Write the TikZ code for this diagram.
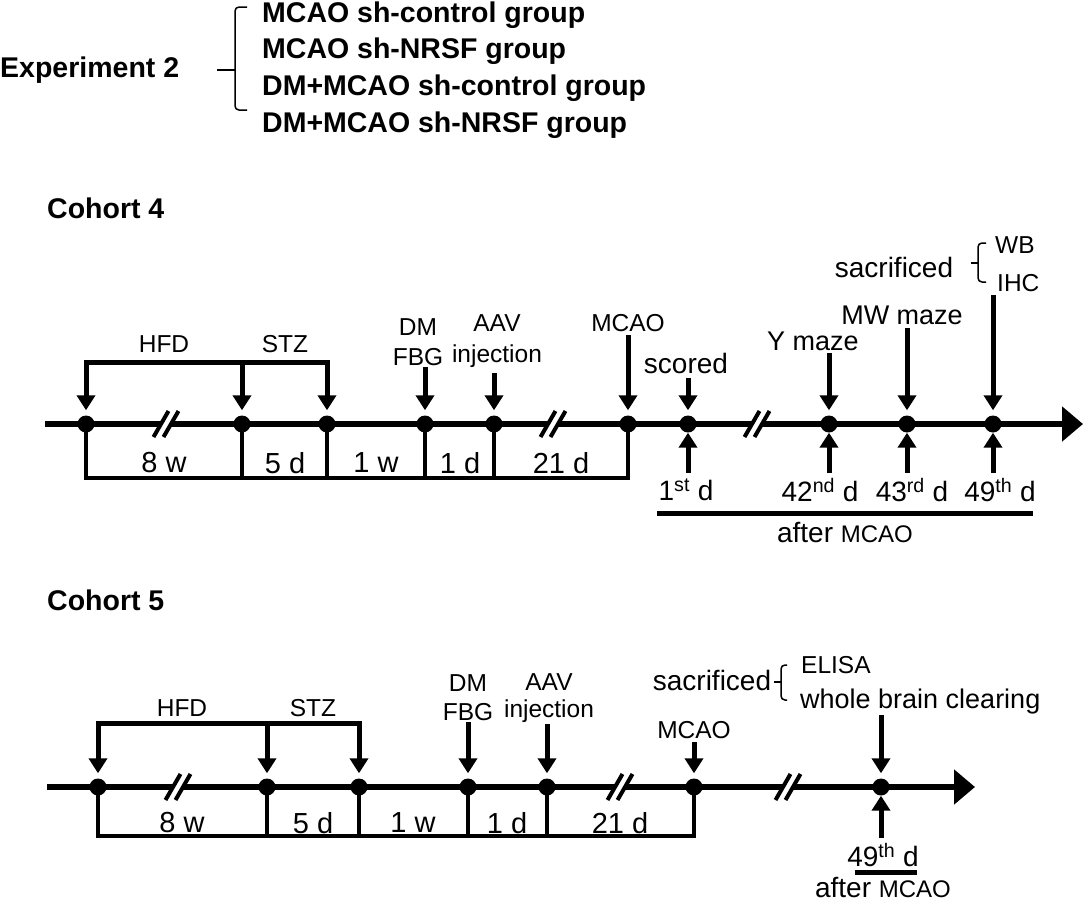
\documentclass[tikz,border=0pt]{standalone}
\usepackage{fontspec}
\setmainfont{Liberation Sans}
\usetikzlibrary{arrows.meta}
\newcommand\fsz[1]{\fontsize{#1}{#1}\selectfont}
\begin{document}
\begin{tikzpicture}[x=1pt,y=-1pt,
  axis/.style={line width=6pt},
  boxl/.style={line width=4pt},
  arr/.style={line width=5pt,line cap=rect,-{Triangle[width=18pt,length=15pt]}},
  dn/.style={arr,shorten >=5pt},
  dot/.style={circle,fill,inner sep=0pt,minimum size=17pt},
  lbl/.style={inner sep=0pt,font=\fsz{24.5}},
  big/.style={inner sep=0pt,font=\fsz{28}},
  mz/.style={inner sep=0pt,font=\fsz{27}},
  dur/.style={inner sep=0pt,font=\fsz{29}},
  ttl/.style={inner sep=0pt,font=\fsz{28.5}\bfseries,anchor=west},
  brace/.style={line width=1.5pt,rounded corners=4pt},
  brk/.pic={
    \fill[white] (-12.5,13) -- (2.5,-13) -- (12.5,-13) -- (-2.5,13) -- cycle;
    \draw[line width=4pt] (-12.5,13) -- (2.5,-13) (-2.5,13) -- (12.5,-13);
  }]
\fill[white] (0,0) rectangle (1084,902);
\useasboundingbox (0,0) rectangle (1084,902);

% ---------- header ----------
\node[ttl] (exp) at (0,70) {Experiment 2};
\node[ttl] (g1) at (262,15) {MCAO sh-control group};
\node[ttl] (g2) at (262,51) {MCAO sh-NRSF group};
\node[ttl] (g3) at (262,88) {DM+MCAO sh-control group};
\node[ttl] (g4) at (262,125) {DM+MCAO sh-NRSF group};
\draw[brace] (247,7) -- (235,7) -- (235,110) -- (247,110);
\draw[line width=1.5pt] (235,70) -- (217,70);

\node[ttl] (c4) at (47,208) {Cohort 4};
\node[ttl] (c5) at (47,600) {Cohort 5};

% ---------- cohort 4 ----------
\coordinate (st4) at (45,424);
\coordinate (en4) at (1083,424);
\coordinate (bot4) at (0,478);
\coordinate (top4) at (0,362);
\draw[axis,-{Triangle[width=34pt,length=21pt]}] (st4) -- (en4);
\foreach \n/\x in {1/86,2/242,3/327,4/425,5/494,6/628,7/688,8/829,9/907,10/993}
  \coordinate (p\n) at (\x,424);
\draw[boxl] (p1) -- (p1 |- bot4) -- (p6 |- bot4) -- (p6);
\foreach \n in {2,3,4,5} \draw[boxl] (p\n) -- (p\n |- bot4);
\pic at (166,424) {brk};
\pic at (553,424) {brk};
\pic at (757,424) {brk};
\foreach \n in {1,...,10} \node[dot] (a\n) at (p\n) {};

\node[dur] (w8a) at (164,463) {8 w};
\node[dur] (d5a) at (285,463) {5 d};
\node[dur] (w1a) at (376,463) {1 w};
\node[dur] (d1a) at (460,463) {1 d};
\node[dur] (d21a) at (561,463) {21 d};

\node[lbl] (hfd4) at (164,344) {HFD};
\node[lbl] (stz4) at (285,344) {STZ};
\draw[dn] (a3 |- top4) -- (a1 |- top4) -- (a1);
\draw[dn] (a2 |- top4) -- (a2);
\draw[dn] (a3 |- top4) -- (a3);

\node[lbl] (dm4) at (418,327) {DM};
\node[lbl] (fbg4) at (418,357) {FBG};
\draw[dn] (a4 |- 0,369) -- (a4);
\node[lbl] (aav4) at (497,323) {AAV};
\node[lbl] (inj4) at (497,356) {injection};
\draw[dn] (a5 |- 0,375) -- (a5);
\node[lbl] (mcao4) at (628,323) {MCAO};
\draw[dn] (a6 |- 0,337) -- (a6);
\node[big] (sc4) at (686,363) {scored};
\draw[dn] (a7 |- 0,380) -- (a7);
\node[mz] (ym4) at (813,341) {Y maze};
\draw[dn] (a8 |- 0,355) -- (a8);
\node[mz] (mw4) at (902,315) {MW maze};
\draw[dn] (a9 |- 0,330) -- (a9);
\node[big] (sac4) at (894,267) {sacrificed};
\draw[brace] (986,243) -- (978,243) -- (978,282) -- (986,282);
\draw[line width=1.5pt] (978,263) -- (971,263);
\node[lbl,anchor=west] (wb4) at (995,245) {WB};
\node[lbl,anchor=west] (ihc4) at (997,283) {IHC};
\draw[dn] (a10 |- 0,297) -- (a10);

\foreach \n in {7,8,9,10} \draw[arr] (a\n |- 0,470) -- (a\n);
\node[big] (day1) at (686,490) {1\textsuperscript{st} d};
\node[big] (day42) at (820,490) {42\textsuperscript{nd} d};
\node[big] (day43) at (912,490) {43\textsuperscript{rd} d};
\node[big] (day49) at (1000,490) {49\textsuperscript{th} d};
\coordinate (l4a) at (657,513);
\coordinate (l4b) at (1033,513);
\draw[line width=5pt] (l4a) -- (l4b);
\node[big,anchor=base] (aft4) at (845,542) {after {\fsz{24}MCAO}};

% ---------- cohort 5 ----------
\coordinate (st5) at (47,787);
\coordinate (en5) at (975,787);
\coordinate (bot5) at (0,836);
\coordinate (top5) at (0,723);
\draw[axis,-{Triangle[width=34pt,length=21pt]}] (st5) -- (en5);
\foreach \n/\x in {1/98,2/267,3/359,4/468,5/547,6/694,7/881}
  \coordinate (q\n) at (\x,787);
\draw[boxl] (q1) -- (q1 |- bot5) -- (q6 |- bot5) -- (q6);
\foreach \n in {2,3,4,5} \draw[boxl] (q\n) -- (q\n |- bot5);
\pic at (178,787) {brk};
\pic at (620,787) {brk};
\pic at (788,787) {brk};
\foreach \n in {1,...,7} \node[dot] (b\n) at (q\n) {};

\node[dur] (w8b) at (182,823) {8 w};
\node[dur] (d5b) at (313,823) {5 d};
\node[dur] (w1b) at (413,823) {1 w};
\node[dur] (d1b) at (507,823) {1 d};
\node[dur] (d21b) at (620,823) {21 d};

\node[lbl] (hfd5) at (182,708) {HFD};
\node[lbl] (stz5) at (313,708) {STZ};
\draw[dn] (b3 |- top5) -- (b1 |- top5) -- (b1);
\draw[dn] (b2 |- top5) -- (b2);
\draw[dn] (b3 |- top5) -- (b3);

\node[lbl] (dm5) at (468,683) {DM};
\node[lbl] (fbg5) at (468,712) {FBG};
\draw[dn] (b4 |- 0,724) -- (b4);
\node[lbl] (aav5) at (549,682) {AAV};
\node[lbl] (inj5) at (549,711) {injection};
\draw[dn] (b5 |- 0,726) -- (b5);
\node[lbl] (mcao5) at (694,730) {MCAO};
\draw[dn] (b6 |- 0,744) -- (b6);
\node[big] (sac5) at (712,680) {sacrificed};
\draw[brace] (787,665) -- (781,665) -- (781,700) -- (787,700);
\draw[line width=1.5pt] (781,682) -- (774,682);
\node[lbl,anchor=west] (eli5) at (801,665) {ELISA};
\node[mz,anchor=west] (wbc5) at (800,702) {whole brain clearing};
\draw[dn] (b7 |- 0,717) -- (b7);
\draw[arr] (b7 |- 0,835) -- (b7);
\node[big] (day49b) at (883,855) {49\textsuperscript{th} d};
\coordinate (l5a) at (855,872);
\coordinate (l5b) at (917,872);
\draw[line width=5pt] (l5a) -- (l5b);
\node[big,anchor=base] (aft5) at (883,897) {after {\fsz{24}MCAO}};
\end{tikzpicture}
\end{document}
